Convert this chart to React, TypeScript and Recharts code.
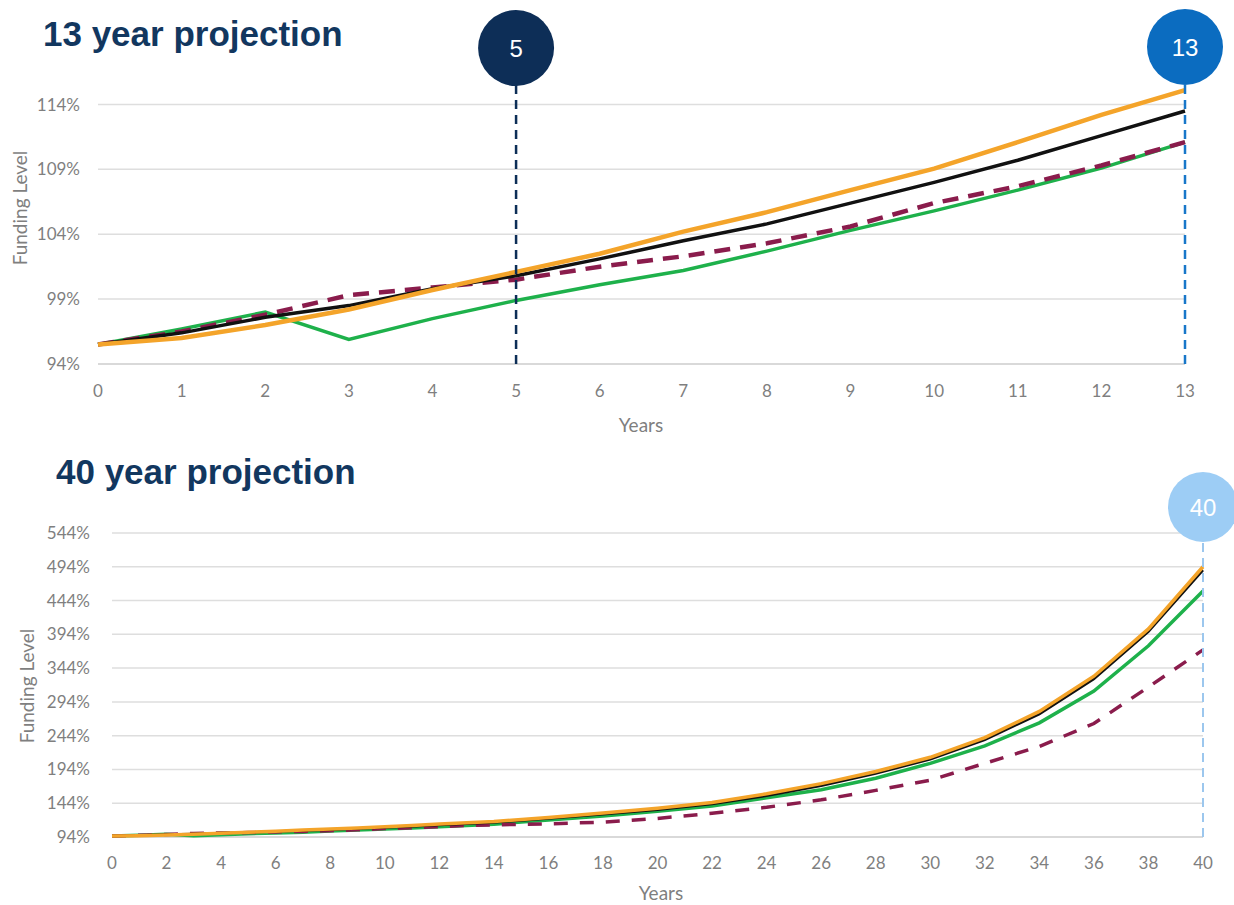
import React from 'react';
import { LineChart, Line, XAxis, YAxis, ReferenceLine } from 'recharts';

// Funding level (%) by year, short horizon
const shortYears = [0, 1, 2, 3, 4, 5, 6, 7, 8, 9, 10, 11, 12, 13];
const shortBase = [95.5, 96.4, 97.6, 98.5, 99.8, 100.8, 102.1, 103.5, 104.8, 106.4, 108.0, 109.7, 111.6, 113.5];
const shortHigh = [95.5, 96.0, 97.0, 98.2, 99.7, 101.1, 102.5, 104.2, 105.7, 107.4, 109.05, 111.1, 113.2, 115.1];
const shortShock = [95.5, 96.7, 98.0, 95.9, 97.5, 98.9, 100.1, 101.2, 102.7, 104.3, 105.8, 107.4, 109.1, 111.1];
const shortLow = [95.5, 96.5, 97.8, 99.3, 99.9, 100.5, 101.5, 102.3, 103.3, 104.6, 106.4, 107.7, 109.3, 111.1];
const shortTicksY = [94, 99, 104, 109, 114];

// Long horizon continues the short one every second year up to 40
const tailYears = [14, 16, 18, 20, 22, 24, 26, 28, 30, 32, 34, 36, 38, 40];
const tailBase = [115.5, 121.5, 127.5, 134.5, 143, 155, 170, 188, 209, 238, 276, 328, 398, 489];
const tailHigh = [117, 123, 129.5, 136.5, 145, 158, 173, 191, 212, 241, 280, 332, 402, 494];
const tailShock = [113, 119, 125, 132, 140, 152, 164, 181, 203, 229, 263, 310, 377, 458];
const tailLow = [112, 113.5, 116, 121.5, 129, 138, 149, 163, 178, 203, 228, 262, 316, 371];
const longTicksX = [0, 2, 4, 6, 8, 10, 12, 14, 16, 18, 20, 22, 24, 26, 28, 30, 32, 34, 36, 38, 40];
const longTicksY = [94, 144, 194, 244, 294, 344, 394, 444, 494, 544];

const shortData = shortYears.map((year, i) => ({
  year,
  base: shortBase[i],
  high: shortHigh[i],
  shock: shortShock[i],
  low: shortLow[i],
}));

const longData = [
  ...shortData,
  ...tailYears.map((year, i) => ({
    year,
    base: tailBase[i],
    high: tailHigh[i],
    shock: tailShock[i],
    low: tailLow[i],
  })),
];

const ORANGE = '#F4A42A';
const BLACK = '#111111';
const GREEN = '#1EB14B';
const MAROON = '#8A1C4C';
const GRID = '#DEDEDE';
const TICK = { fill: '#7F7F7F', fontSize: 17, fontFamily: 'Lato, sans-serif' };
const pct = (v: number) => `${v}%`;

// round marker sitting on top of a vertical reference line
function Badge(props: any) {
  const { viewBox, text, fill, r, lift, fontSize } = props;
  if (!viewBox) return null;
  const cx = viewBox.x;
  const cy = viewBox.y - lift;
  return (
    <g>
      <circle cx={cx} cy={cy} r={r} fill={fill} />
      <text
        x={cx}
        y={cy}
        textAnchor="middle"
        dominantBaseline="central"
        fill="#ffffff"
        fontSize={fontSize}
        fontFamily="'Liberation Sans', Arial, sans-serif"
      >
        {text}
      </text>
    </g>
  );
}

// horizontal grid only at the tick values (the short chart's domain runs past its last tick)
const gridLines = (ticks: number[]) =>
  ticks.map((v) => (
    <ReferenceLine key={`g${v}`} y={v} stroke={v === ticks[0] ? '#CCCCCC' : GRID} strokeWidth={1.5} />
  ));

const title: React.CSSProperties = {
  position: 'absolute',
  fontFamily: "'Liberation Sans', Arial, sans-serif",
  fontWeight: 700,
  fontSize: 35,
  lineHeight: 1,
  color: '#12375F',
  whiteSpace: 'nowrap',
};

const axisTitle: React.CSSProperties = {
  position: 'absolute',
  fontFamily: 'Lato, sans-serif',
  fontSize: 19,
  color: '#7F7F7F',
  whiteSpace: 'nowrap',
  transform: 'translate(-50%, -50%)',
};

export default function App() {
  return (
    <div style={{ position: 'absolute', left: 0, top: 0, width: 1234, height: 905, background: '#fff', overflow: 'hidden' }}>
      <div style={{ ...title, left: 43, top: 16 }}>13 year projection</div>
      <div style={{ ...title, left: 56, top: 454 }}>40 year projection</div>

      <div style={{ ...axisTitle, left: 19, top: 208, transform: 'translate(-50%, -50%) rotate(-90deg)' }}>Funding Level</div>
      <div style={{ ...axisTitle, left: 641, top: 424 }}>Years</div>
      <div style={{ ...axisTitle, left: 26, top: 686, transform: 'translate(-50%, -50%) rotate(-90deg)' }}>Funding Level</div>
      <div style={{ ...axisTitle, left: 661, top: 892 }}>Years</div>

      <div style={{ position: 'absolute', left: 0, top: 0 }}>
        <LineChart width={1234} height={440} data={shortData} margin={{ top: 85, right: 49, left: 38, bottom: 46 }}>
          <XAxis
            dataKey="year"
            type="number"
            domain={[0, 13]}
            ticks={shortYears}
            height={30}
            axisLine={false}
            tickLine={false}
            tickSize={0}
            tickMargin={21}
            tick={TICK}
          />
          <YAxis
            type="number"
            domain={[94, 115.5]}
            ticks={shortTicksY}
            allowDataOverflow
            width={60}
            axisLine={false}
            tickLine={false}
            tickSize={0}
            tickMargin={18}
            tickFormatter={pct}
            tick={TICK}
          />
          {gridLines(shortTicksY)}
          <Line dataKey="shock" stroke={GREEN} strokeWidth={3.5} dot={false} activeDot={false} isAnimationActive={false} />
          <Line dataKey="low" stroke={MAROON} strokeWidth={4.5} strokeDasharray="16 10" dot={false} activeDot={false} isAnimationActive={false} />
          <Line dataKey="base" stroke={BLACK} strokeWidth={3.5} dot={false} activeDot={false} isAnimationActive={false} />
          <Line dataKey="high" stroke={ORANGE} strokeWidth={4.5} dot={false} activeDot={false} isAnimationActive={false} />
          <ReferenceLine
            x={5}
            stroke="#0D2E57"
            strokeWidth={2.5}
            strokeDasharray="9 6"
            label={<Badge text="5" fill="#0D2E57" r={38} lift={37} fontSize={24} />}
          />
          <ReferenceLine
            x={13}
            stroke="#1877C9"
            strokeWidth={2.5}
            strokeDasharray="9 6"
            label={<Badge text="13" fill="#0B6CC0" r={38} lift={38} fontSize={24} />}
          />
        </LineChart>
      </div>

      <div style={{ position: 'absolute', left: 0, top: 440 }}>
        <LineChart width={1234} height={465} data={longData} margin={{ top: 93, right: 31, left: 52, bottom: 38 }}>
          <XAxis
            dataKey="year"
            type="number"
            domain={[0, 40]}
            ticks={longTicksX}
            height={30}
            axisLine={false}
            tickLine={false}
            tickSize={0}
            tickMargin={20}
            tick={TICK}
          />
          <YAxis
            type="number"
            domain={[94, 544]}
            ticks={longTicksY}
            width={60}
            axisLine={false}
            tickLine={false}
            tickSize={0}
            tickMargin={22}
            tickFormatter={pct}
            tick={TICK}
          />
          {gridLines(longTicksY)}
          <Line dataKey="shock" stroke={GREEN} strokeWidth={3.5} dot={false} activeDot={false} isAnimationActive={false} />
          <Line dataKey="low" stroke={MAROON} strokeWidth={3.5} strokeDasharray="14 12" dot={false} activeDot={false} isAnimationActive={false} />
          <Line dataKey="base" stroke={BLACK} strokeWidth={2.5} dot={false} activeDot={false} isAnimationActive={false} />
          <Line dataKey="high" stroke={ORANGE} strokeWidth={3.5} dot={false} activeDot={false} isAnimationActive={false} />
          <ReferenceLine
            x={40}
            stroke="#9CC7EE"
            strokeWidth={2}
            strokeDasharray="9 6"
            label={<Badge text="40" fill="#9DCDF5" r={35} lift={26} fontSize={24} />}
          />
        </LineChart>
      </div>
    </div>
  );
}
